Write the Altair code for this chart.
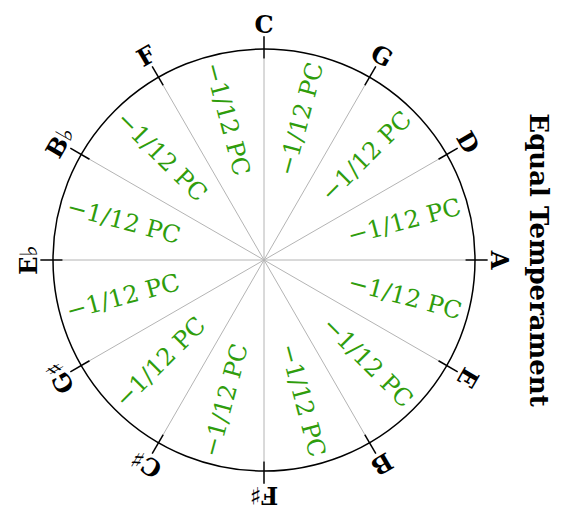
import altair as alt
import pandas as pd

# ---- data ----
notes = ["C", "G", "D", "A", "E", "B", "F♯", "C♯", "G♯", "E♭", "B♭", "F"]
note_angles = [0, 30, 60, 90, 120, 150, 180, 210, 240, 270, 300, 330]
deviations = ["−1/12 PC"] * 12
dev_angles = [15, 45, 75, 105, 135, 165, 195, 225, 255, 285, 315, 345]
title_text = "Equal Temperament"

notes_df = pd.DataFrame({"note": notes, "ang": note_angles})
dev_df = pd.DataFrame({"dev": deviations, "ang": dev_angles})
center_df = pd.DataFrame({"x": [0.0], "y": [0.0]})
title_df = pd.DataFrame({"t": [title_text], "x": [1.30], "y": [0.0]})

PX = 211.0  # pixels per unit radius
W, H = 549, 500
cx, cy = 256.0, 252.0  # centre inside the plot area
xs = alt.Scale(domain=[-cx / PX, (W - cx) / PX], nice=False, zero=False)
ys = alt.Scale(domain=[-(H - cy) / PX, cy / PX], nice=False, zero=False)
X = lambda f: alt.X(f, type="quantitative", scale=xs, axis=None)
Y = lambda f: alt.Y(f, type="quantitative", scale=ys, axis=None)

SERIF = "DejaVu Serif"
GREEN = "#2f9d0c"

spokes = alt.Chart(notes_df).transform_calculate(
    x0="0", y0="0",
    x1="0.955*sin(datum.ang*PI/180)", y1="0.955*cos(datum.ang*PI/180)"
).mark_rule(color="#b4b4b4", strokeWidth=1).encode(
    x=X("x0"), y=Y("y0"), x2="x1:Q", y2="y1:Q"
)

ticks = alt.Chart(notes_df).transform_calculate(
    xa="0.955*sin(datum.ang*PI/180)", ya="0.955*cos(datum.ang*PI/180)",
    xb="1.06*sin(datum.ang*PI/180)", yb="1.06*cos(datum.ang*PI/180)"
).mark_rule(color="black", strokeWidth=1.5).encode(
    x=X("xa"), y=Y("ya"), x2="xb:Q", y2="yb:Q"
)

circle = alt.Chart(center_df).mark_point(
    shape="circle", filled=False, stroke="black", strokeWidth=1.5, opacity=1
).encode(x=X("x"), y=Y("y"), size=alt.value(422 * 422))

note_text = alt.Chart(notes_df).transform_calculate(
    x="1.11*sin(datum.ang*PI/180)", y="1.11*cos(datum.ang*PI/180)"
).mark_text(font=SERIF, fontWeight="bold", fontSize=24, color="black",
            baseline="middle", align="center").encode(
    x=X("x"), y=Y("y"), text="note:N", angle=alt.Angle("ang:Q", scale=None)
)

dev_text = alt.Chart(dev_df).transform_calculate(
    x="0.69*sin(datum.ang*PI/180)", y="0.69*cos(datum.ang*PI/180)",
    rot="datum.ang < 180 ? datum.ang - 90 + 360 : datum.ang + 90 - 360"
).mark_text(font=SERIF, fontSize=24, color=GREEN,
            baseline="middle", align="center").encode(
    x=X("x"), y=Y("y"), text="dev:N", angle=alt.Angle("rot:Q", scale=None)
)

title = alt.Chart(title_df).mark_text(
    font=SERIF, fontWeight="bold", fontSize=26, color="black",
    angle=90, baseline="middle", align="center"
).encode(x=X("x"), y=Y("y"), text="t:N")

chart = alt.layer(spokes, ticks, circle, dev_text, note_text, title).properties(
    width=W, height=H, autosize=alt.AutoSizeParams(type="none"), padding=0
).configure_view(stroke=None)

chart.save("out.html", embed_options={"renderer": "svg", "actions": False})
